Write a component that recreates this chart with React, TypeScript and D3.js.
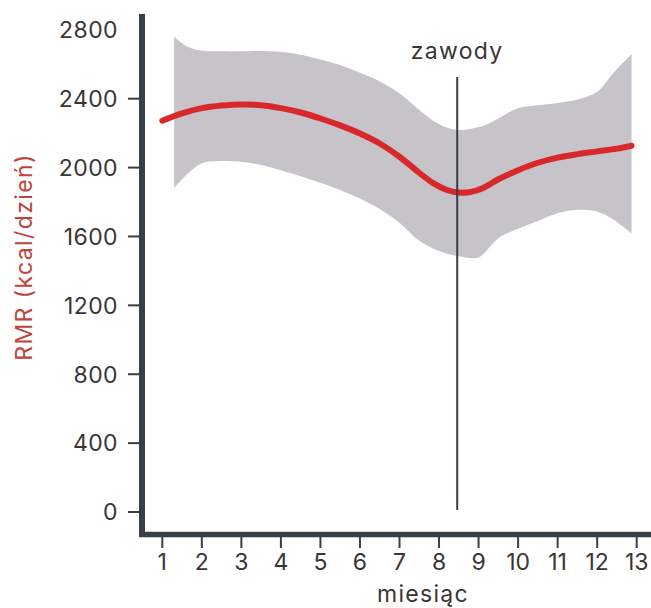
import React from 'react'
import * as d3 from 'd3'

// months and RMR values
const lineMonths = [1, 1.5, 2, 2.5, 3, 3.5, 4, 4.5, 5, 5.5, 6, 6.5, 7, 7.5, 7.85, 8.2, 8.5, 8.8, 9.1, 9.5, 10, 10.5, 11, 11.5, 12, 12.5, 12.87]
const rmr = [2272, 2315, 2345, 2360, 2367, 2362, 2345, 2320, 2285, 2245, 2198, 2140, 2063, 1970, 1910, 1870, 1855, 1858, 1880, 1932, 1985, 2028, 2058, 2078, 2094, 2110, 2127]

const bandMonths = [1.3, 1.65, 2, 2.5, 3, 3.5, 4, 4.5, 5, 5.5, 6, 6.5, 7, 7.5, 8, 8.5, 9, 9.25, 9.5, 10, 10.5, 11, 11.5, 12, 12.4, 12.87]
const bandUpper = [2760, 2700, 2680, 2675, 2675, 2677, 2672, 2655, 2628, 2595, 2550, 2500, 2431, 2335, 2252, 2218, 2235, 2255, 2285, 2345, 2362, 2375, 2395, 2441, 2547, 2660]
const bandLower = [1880, 1965, 2025, 2038, 2034, 2015, 1985, 1950, 1912, 1870, 1820, 1760, 1680, 1575, 1515, 1485, 1478, 1530, 1590, 1645, 1690, 1735, 1755, 1745, 1700, 1618]

const yTicks = [0, 400, 800, 1200, 1600, 2000, 2400, 2800]
const xTicks = [1, 2, 3, 4, 5, 6, 7, 8, 9, 10, 11, 12, 13]
const eventMonth = 8.46
const eventLabel = 'zawody'

const FONT = 'Inter, "Liberation Sans", sans-serif'
const AXIS = '#383f48'
const INK = '#3a3535'

export default function App() {
  const width = 651
  const height = 608
  const x = d3.scaleLinear().domain([1, 13]).range([162.3, 636.7])
  const y = d3.scaleLinear().domain([0, 2400]).range([512, 98.7])

  const line = d3.line<number>()
    .x((_, i) => x(lineMonths[i]))
    .y((d) => y(d))
    .curve(d3.curveCatmullRom)

  const area = d3.area<number>()
    .x((_, i) => x(bandMonths[i]))
    .y0((_, i) => y(bandLower[i]))
    .y1((d) => y(d))
    .curve(d3.curveCatmullRom)

  return (
    <svg width={width} height={height} style={{ position: 'absolute', left: 0, top: 0, fontFamily: FONT }}>
      <path d={area(bandUpper) || ''} fill="#c6c4c8" />
      <path d={line(rmr) || ''} fill="none" stroke="#d9282b" strokeWidth={6} strokeLinecap="round" />

      {/* event marker */}
      <line x1={x(eventMonth)} x2={x(eventMonth)} y1={77} y2={510} stroke={AXIS} strokeWidth={2} />
      <text x={x(eventMonth)} y={59} textAnchor="middle" fontSize={23} letterSpacing={1.3} fill={INK}>{eventLabel}</text>

      {/* axes */}
      <line x1={142} x2={142} y1={14} y2={537} stroke={AXIS} strokeWidth={6} />
      <line x1={139} x2={651} y1={534.5} y2={534.5} stroke={AXIS} strokeWidth={5.5} />

      {yTicks.map((t) => (
        <g key={t}>
          {t < 2800 && <line x1={128} x2={139} y1={y(t)} y2={y(t)} stroke={AXIS} strokeWidth={2} />}
          <text x={118} y={y(t)} dy="0.36em" textAnchor="end" fontSize={23} letterSpacing={0.4} fill={INK}>{t}</text>
        </g>
      ))}
      {xTicks.map((t) => (
        <g key={t}>
          <line x1={x(t)} x2={x(t)} y1={537} y2={548} stroke={AXIS} strokeWidth={2} />
          <text x={x(t)} y={570} textAnchor="middle" fontSize={23} fill={INK}>{t}</text>
        </g>
      ))}

      <text x={423} y={602} textAnchor="middle" fontSize={23} letterSpacing={1.3} fill={INK}>miesiąc</text>
      <text transform="translate(32,257) rotate(-90)" textAnchor="middle" fontSize={23} letterSpacing={1.4} fill="#c0443d">RMR (kcal/dzień)</text>
    </svg>
  )
}
